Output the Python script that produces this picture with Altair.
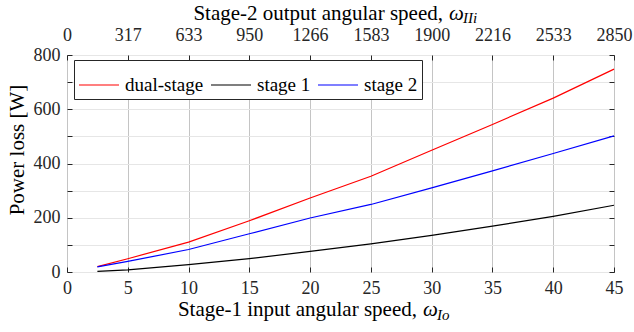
import altair as alt
import pandas as pd

# ---- data ----
speed = [2.5, 5, 10, 15, 20, 25, 30, 35, 40, 45]
dual_stage = [20, 49, 110, 189, 273, 353, 449, 544, 641, 748]
stage_1 = [2, 8, 27, 49, 76, 104, 135, 169, 205, 246]
stage_2 = [19, 39, 83, 141, 199, 249, 310, 373, 437, 502]
series_names = ["dual-stage", "stage 1", "stage 2"]
series_colors = ["#ff0000", "#000000", "#0000ff"]
x_ticks = [0, 5, 10, 15, 20, 25, 30, 35, 40, 45]
top_tick_labels = ["0", "317", "633", "950", "1266", "1583", "1900", "2216", "2533", "2850"]
y_ticks = [0, 100, 200, 300, 400, 500, 600, 700, 800]

rows = []
for name, vals in zip(series_names, [dual_stage, stage_1, stage_2]):
    for s, v in zip(speed, vals):
        rows.append({"speed": s, "loss": v, "series": name})
df = pd.DataFrame(rows)

FONT = "Liberation Serif"
TXT = "#262626"
xscale = alt.Scale(domain=[0, 45], nice=False, zero=False)
yscale = alt.Scale(domain=[0, 800], nice=False)

main = alt.Chart(df).mark_line(strokeWidth=1.2).encode(
    x=alt.X("speed:Q", scale=xscale, axis=alt.Axis(
        values=x_ticks, title=None, grid=True, gridColor="#c4c4c4", gridWidth=1,
        tickSize=0, domain=False, labelPadding=7, labelFont=FONT, labelFontSize=18,
        labelColor=TXT, labelOverlap=False, labelFlush=False, labelBound=False)),
    y=alt.Y("loss:Q", scale=yscale, axis=alt.Axis(
        values=y_ticks, title=None, grid=True, gridColor="#e6e6e6", gridWidth=1,
        tickSize=0, domain=False, labelPadding=7, labelFont=FONT, labelFontSize=18,
        labelColor=TXT, labelOverlap=False, labelFlush=False, labelBound=False,
        labelExpr="datum.value % 200 == 0 ? datum.label : ''")),
    color=alt.Color("series:N", scale=alt.Scale(domain=series_names, range=series_colors),
                    legend=alt.Legend(
                        title=None, orient="none", legendX=7, legendY=5,
                        direction="horizontal", symbolType="stroke", symbolSize=1600,
                        symbolStrokeWidth=1.2, labelFont=FONT, labelFontSize=19,
                        labelColor="#000000", labelOffset=5, columnPadding=4,
                        padding=4, strokeColor=TXT, fillColor="white")),
)

label_list = "[" + ",".join("'" + t + "'" for t in top_tick_labels) + "]"
top = alt.Chart(df).mark_point(opacity=0).encode(
    x=alt.X("speed:Q", scale=xscale, axis=alt.Axis(
        orient="top", values=x_ticks, title=None, grid=False, tickSize=0, domain=False,
        labelPadding=11, labelFont=FONT, labelFontSize=18, labelColor=TXT,
        labelOverlap=False, labelFlush=False, labelBound=False,
        labelExpr=label_list + "[round(datum.value / 5)]")),
    y=alt.Y("loss:Q", scale=yscale, axis=None),
)

def tick_axis(orient, values):
    return alt.Axis(orient=orient, values=values, title=None, labels=False, grid=False,
                    domain=False, ticks=True, tickSize=5, tickColor=TXT, tickWidth=1,
                    offset=-5)

ticks_a = alt.Chart(df).mark_point(opacity=0).encode(
    x=alt.X("speed:Q", scale=xscale, axis=tick_axis("bottom", x_ticks)),
    y=alt.Y("loss:Q", scale=yscale, axis=tick_axis("left", y_ticks)),
)
ticks_b = alt.Chart(df).mark_point(opacity=0).encode(
    x=alt.X("speed:Q", scale=xscale, axis=tick_axis("top", x_ticks)),
    y=alt.Y("loss:Q", scale=yscale, axis=tick_axis("right", y_ticks)),
)

# ---- axis titles ----
bottom_title = ["Stage-1 input angular speed,"]
top_title = ["Stage-2 output angular speed,"]
omega = ["ω"]
bottom_sub = ["Io"]
top_sub = ["IIi"]
y_title = ["Power loss [W]"]

def txt(values, x, y, size, style="normal", align="left", angle=0, baseline="alphabetic"):
    return alt.Chart(pd.DataFrame({"t": values})).mark_text(
        font=FONT, fontSize=size, fontStyle=style, align=align, baseline=baseline,
        angle=angle, color="#000000").encode(text="t:N", x=alt.value(x), y=alt.value(y))

titles = [
    txt(bottom_title, 350, 261, 21, align="right"),
    txt(omega, 356, 261, 21, "italic"),
    txt(bottom_sub, 370, 265, 15, "italic"),
    txt(top_title, 376, -35, 21, align="right"),
    txt(omega, 382, -35, 21, "italic"),
    txt(top_sub, 396, -32, 15, "italic"),
    txt(y_title, -43, 95, 21, align="center", angle=270),
]

chart = alt.layer(main, top, ticks_a, ticks_b, *titles).resolve_axis(
    x="independent", y="independent"
).properties(
    width=547, height=217,
    autosize=alt.AutoSizeParams(type="none"),
    padding={"left": 67, "top": 55, "right": 20, "bottom": 60},
).configure_view(stroke=TXT, strokeWidth=1)

chart.save("out.html", embed_options={"renderer": "svg", "actions": False})
